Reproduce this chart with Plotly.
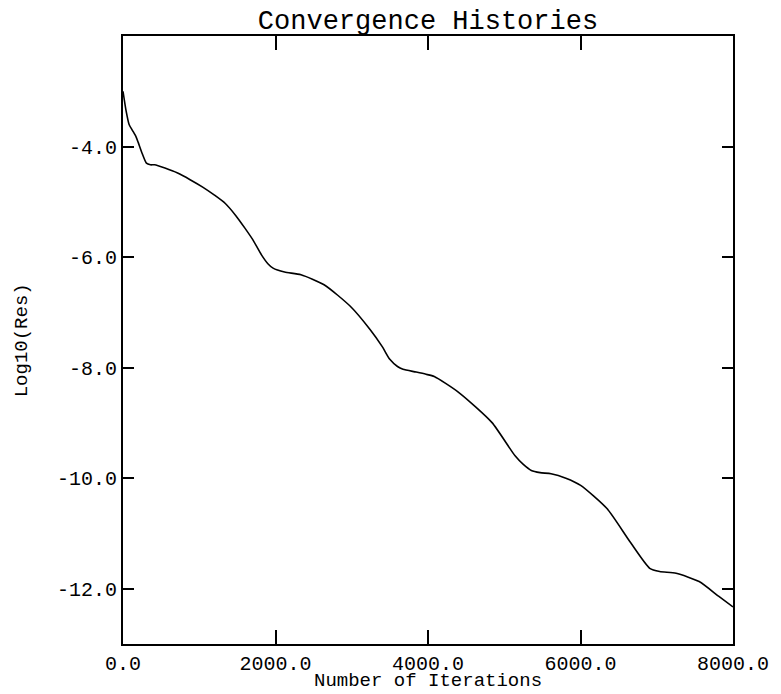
import plotly.graph_objects as go

# Data
iterations = [0, 40, 80, 125, 170, 198, 250, 307, 360, 414, 550, 716, 880, 1040, 1200,
              1342, 1480, 1601, 1700, 1816, 1900, 1968, 2119, 2334, 2637, 2981, 3240,
              3400, 3499, 3600, 3672, 3845, 3974, 4082, 4405, 4837, 5139, 5250, 5355,
              5470, 5614, 5808, 6002, 6347, 6649, 6908, 7038, 7254, 7556, 7815, 8000]
log_res = [-3.0, -3.35, -3.6, -3.71, -3.82, -3.92, -4.12, -4.30, -4.33, -4.33, -4.39,
           -4.48, -4.60, -4.73, -4.88, -5.03, -5.25, -5.48, -5.68, -5.96, -6.12, -6.20,
           -6.27, -6.32, -6.50, -6.89, -7.31, -7.62, -7.85, -7.98, -8.03, -8.08, -8.12,
           -8.16, -8.45, -8.99, -9.59, -9.75, -9.86, -9.90, -9.92, -10.0, -10.13, -10.55,
           -11.15, -11.63, -11.69, -11.72, -11.87, -12.14, -12.33]

x_tickvals = [0, 2000, 4000, 6000, 8000]
x_ticktext = ["0.0", "2000.0", "4000.0", "6000.0", "8000.0"]
y_tickvals = [-4, -6, -8, -10, -12]
y_ticktext = ["-4.0", "-6.0", "-8.0", "-10.0", "-12.0"]

title_text = "Convergence Histories"
x_title = "Number of Iterations"
y_title = "Log10(Res)"

FONT = "Liberation Mono, Courier New, monospace"

# The page body has an 8px default margin, so the figure is sized/placed to compensate.
FIG_W, FIG_H = 773, 686

fig = go.Figure()
fig.add_trace(go.Scatter(
    x=iterations, y=log_res, mode="lines",
    line=dict(color="black", width=1.6, shape="spline", smoothing=0.6),
    showlegend=False, hoverinfo="skip"))

fig.update_layout(
    width=FIG_W, height=FIG_H,
    margin=dict(l=115, r=40, t=28, b=50),
    paper_bgcolor="white", plot_bgcolor="white",
    font=dict(family=FONT, color="black", size=20),
    title=dict(text=title_text, x=0.5, xref="paper", y=1 - 12 / FIG_H,
               yanchor="middle", xanchor="center",
               font=dict(family=FONT, size=27, color="black")),
    xaxis=dict(range=[0, 8000], tickvals=x_tickvals, ticktext=x_ticktext,
               ticks="inside", ticklen=14, tickwidth=1.5, tickcolor="black",
               showline=True, linecolor="black", linewidth=1.8, mirror="ticks",
               showgrid=False, zeroline=False,
               tickfont=dict(family=FONT, size=20, color="black")),
    yaxis=dict(range=[-13, -2], tickvals=y_tickvals, ticktext=y_ticktext,
               ticks="inside", ticklen=11, tickwidth=1.5, tickcolor="black",
               showline=True, linecolor="black", linewidth=1.8, mirror="ticks",
               showgrid=False, zeroline=False,
               tickfont=dict(family=FONT, size=20, color="black")),
    annotations=[
        dict(text=x_title, xref="paper", yref="paper", x=0.5, y=-37 / 608,
             xanchor="center", yanchor="middle", showarrow=False, borderpad=0,
             font=dict(family=FONT, size=19, color="black")),
        dict(text=y_title, xref="paper", yref="paper", x=-102 / 618, y=0.5,
             xanchor="center", yanchor="middle", showarrow=False, textangle=-90,
             font=dict(family=FONT, size=19, color="black")),
    ],
)

fig.write_html("out.html")
